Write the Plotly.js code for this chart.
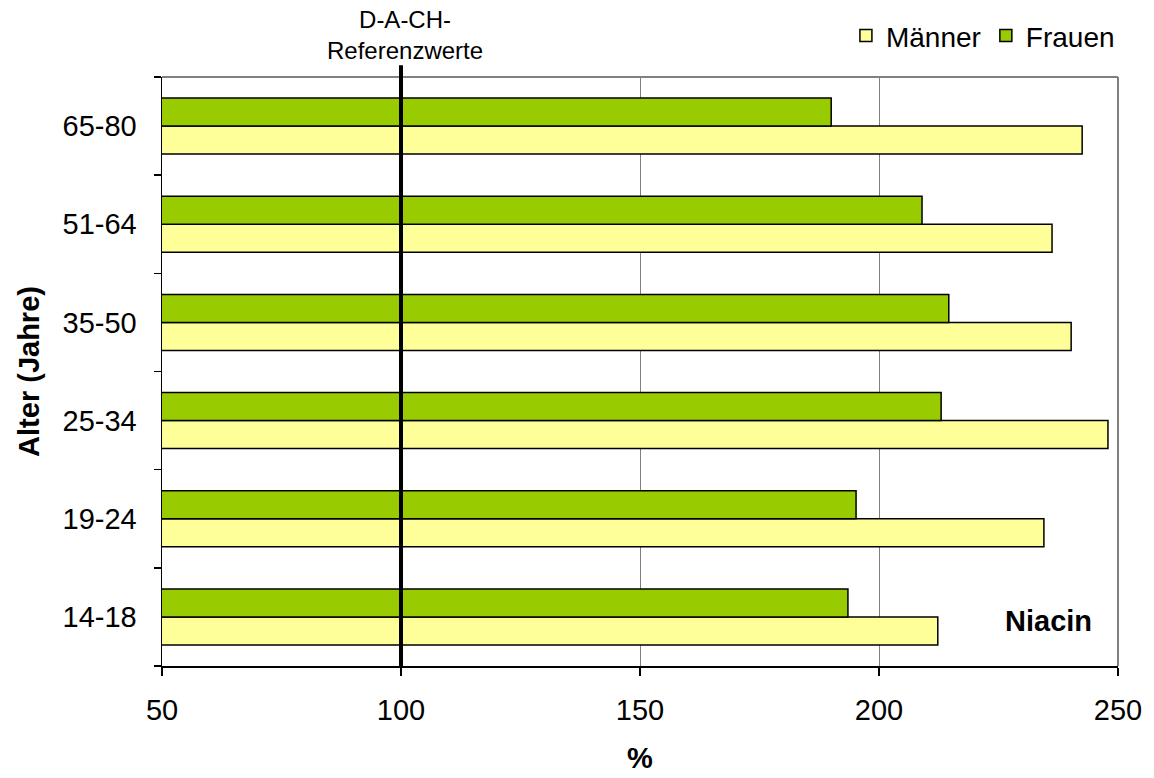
<!DOCTYPE html>
<html>
<head>
<meta charset="utf-8">
<script src="https://cdn.plot.ly/plotly-3.0.1.min.js"></script>
<style>html,body{margin:0;padding:0;background:#fff;}#chart{width:1154px;height:778px;}</style>
</head>
<body>
<div id="chart"></div>
<script>
const categories = ["14-18", "19-24", "25-34", "35-50", "51-64", "65-80"];
const maenner = [212.3, 234.5, 247.9, 240.2, 236.2, 242.5];
const frauen = [193.5, 195.2, 213.0, 214.6, 209.0, 190.0];
const referenceValue = 100;
const xTicks = [50, 100, 150, 200, 250];

const font = "Liberation Sans, Arial, sans-serif";

const traces = [
  {type: "bar", orientation: "h", name: "Männer", y: categories, x: maenner,
   marker: {color: "#FFFF99", line: {color: "#000", width: 1.5}}},
  {type: "bar", orientation: "h", name: "Frauen", y: categories, x: frauen,
   marker: {color: "#99CC00", line: {color: "#000", width: 1.5}}}
];

const layout = {
  width: 1154, height: 778,
  margin: {l: 162, r: 36, t: 77, b: 112},
  paper_bgcolor: "#fff", plot_bgcolor: "#fff",
  font: {family: font, size: 29, color: "#000"},
  barmode: "group", bargap: 0.43, bargroupgap: 0,
  showlegend: true,
  legend: {orientation: "h", x: 1.002, xanchor: "right", y: 0.986, yanchor: "top", yref: "container",
           font: {size: 28}, itemwidth: 30, tracegroupgap: 0, bgcolor: "rgba(0,0,0,0)"},
  xaxis: {range: [50, 250], tickvals: xTicks, ticktext: xTicks.map(String),
          showgrid: true, gridcolor: "#808080", gridwidth: 1,
          showline: true, linecolor: "#000", linewidth: 1.5,
          ticks: "outside", ticklen: 8, tickcolor: "#000", tickwidth: 1.5,
          ticklabelstandoff: 10, zeroline: false,
          title: {text: "<b>%</b>", font: {size: 29}, standoff: 22}},
  yaxis: {type: "category", categoryorder: "array", categoryarray: categories,
          showgrid: false, showline: true, linecolor: "#000", linewidth: 1.5,
          ticks: "outside", ticklen: 7, tickcolor: "#000", tickwidth: 1.5,
          tickson: "boundaries", ticklabelstandoff: 18,
          title: {text: "<b>Alter (Jahre)</b>", font: {size: 29}, standoff: 14}},
  shapes: [
    {type: "line", xref: "paper", yref: "paper", x0: 0, x1: 1, y0: 1, y1: 1, line: {color: "#808080", width: 2}},
    {type: "line", xref: "paper", yref: "paper", x0: 1, x1: 1, y0: 0, y1: 1, line: {color: "#808080", width: 2}},
    {type: "line", xref: "x", yref: "paper", x0: referenceValue, x1: referenceValue, y0: -0.002, y1: 1.02,
     line: {color: "#000", width: 4}}
  ],
  annotations: [
    {text: "D-A-CH-<br>Referenzwerte", xref: "x", yref: "paper", x: referenceValue, y: 1.02,
     xanchor: "center", yanchor: "bottom", showarrow: false, font: {size: 24}, xshift: 4, yshift: -1},
    {text: "<b>Niacin</b>", xref: "paper", yref: "paper", x: 0.975, y: 0.076, xanchor: "right", yanchor: "middle",
     showarrow: false, font: {size: 29}}
  ]
};

Plotly.newPlot("chart", traces, layout, {displayModeBar: false, staticPlot: true});
</script>
</body>
</html>
